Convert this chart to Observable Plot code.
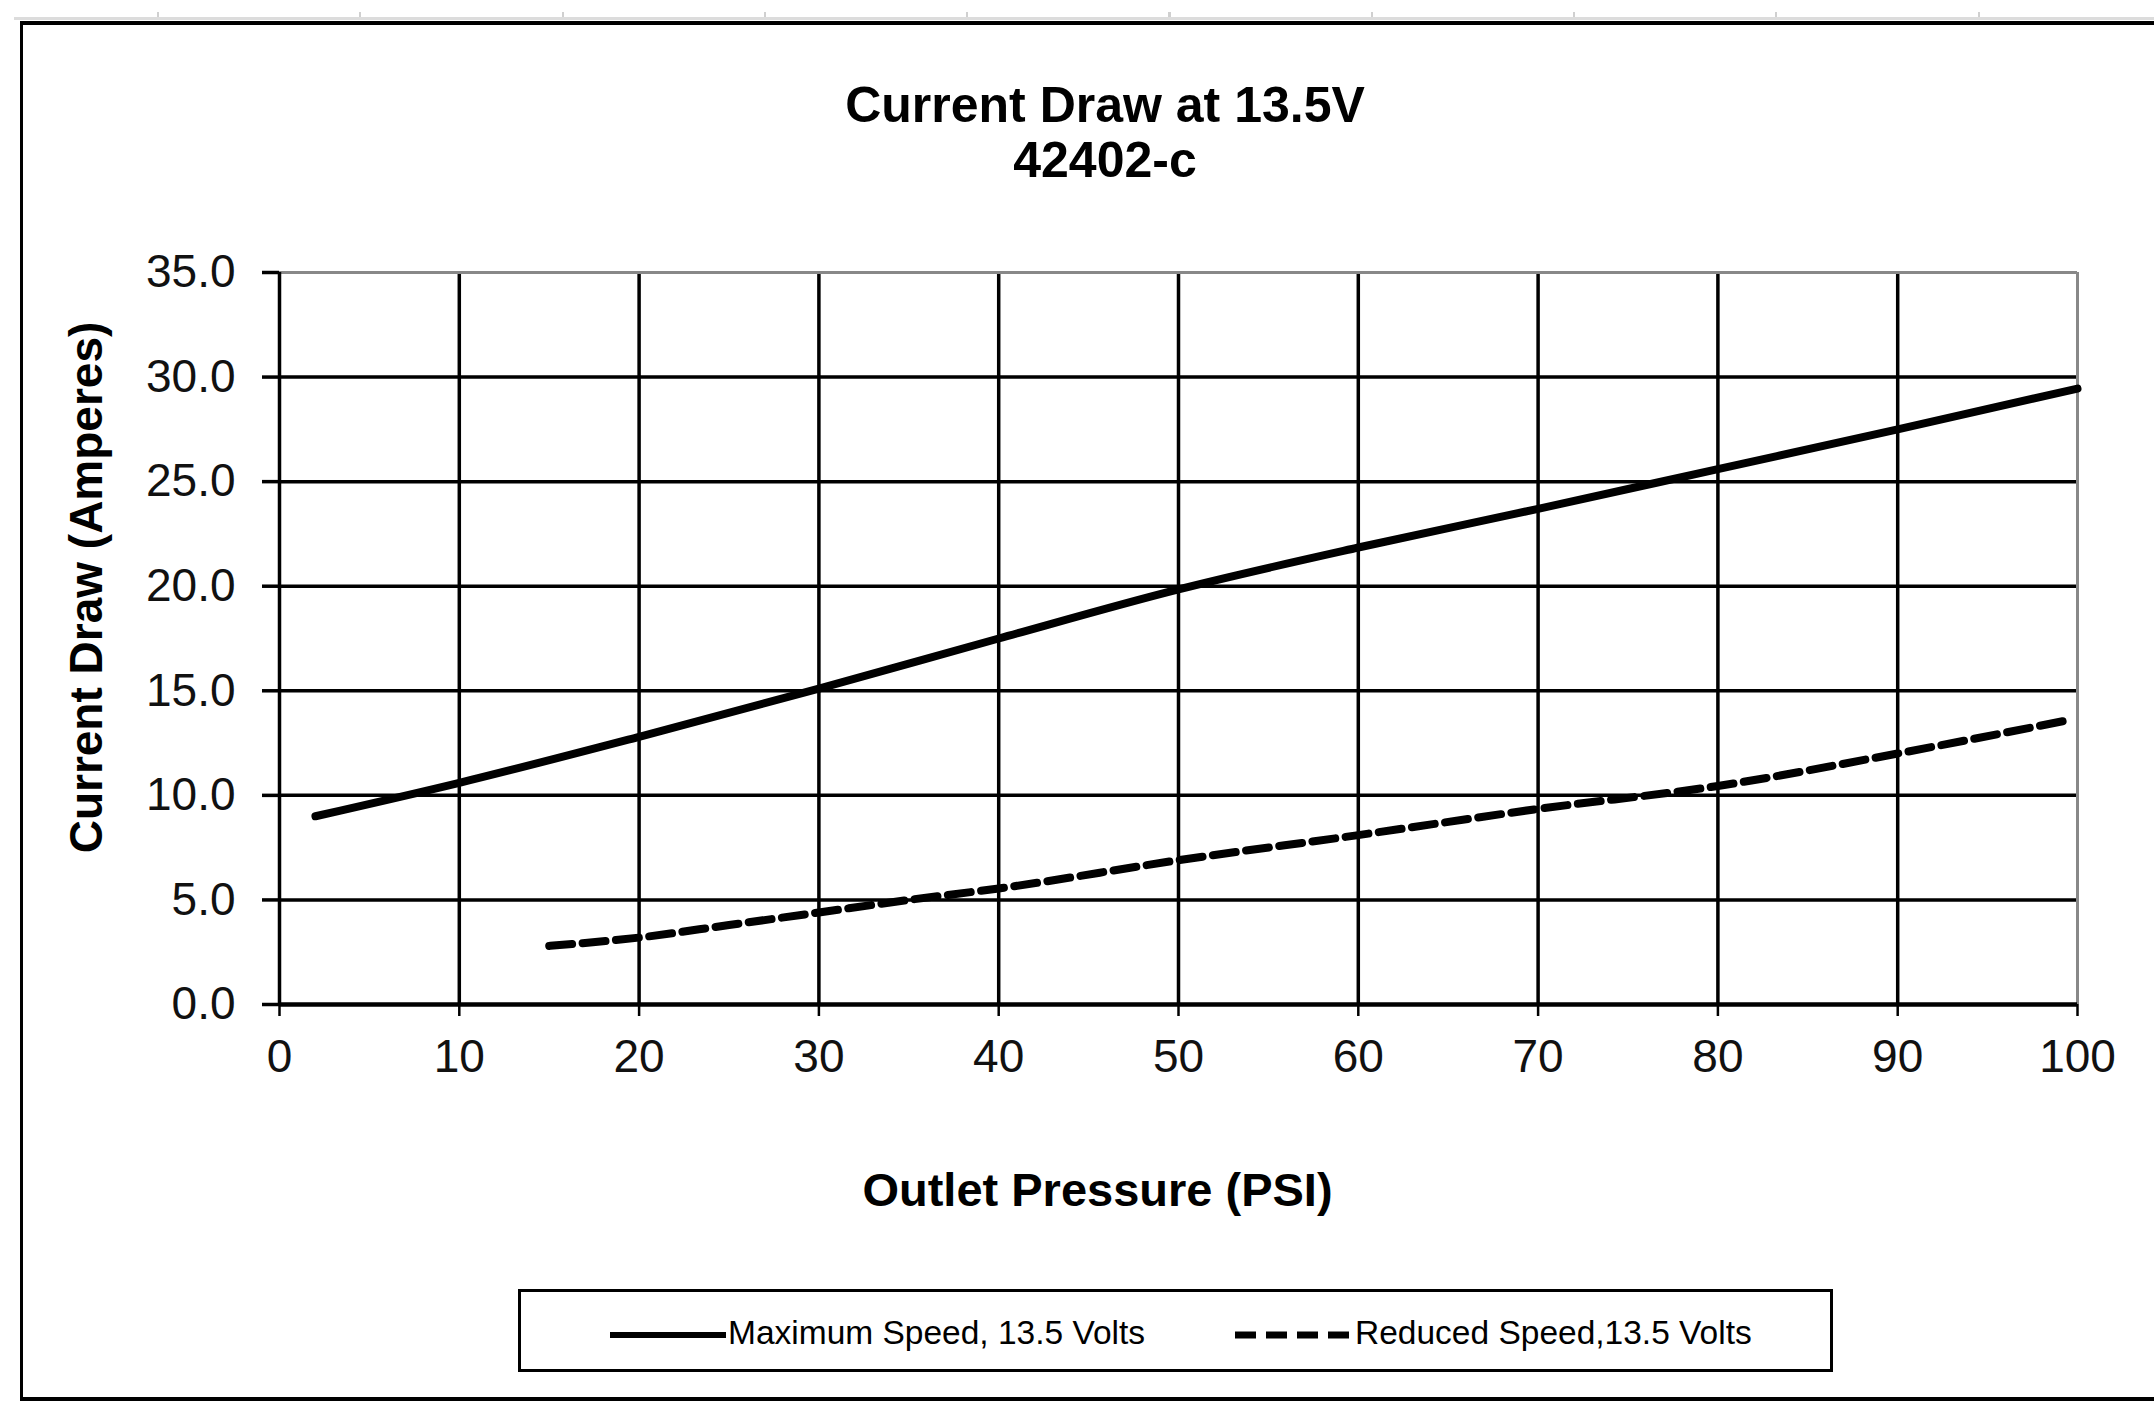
<!DOCTYPE html>
<html>
<head>
<meta charset="utf-8">
<script src="https://cdn.jsdelivr.net/npm/d3@7"></script>
<script src="https://cdn.jsdelivr.net/npm/@observablehq/plot@0.6"></script>
<style>
  html, body { margin: 0; padding: 0; background: #fff; }
  body { width: 2154px; height: 1404px; position: relative; overflow: hidden; font-family: "Liberation Sans", Arial, sans-serif; }
  #ruler { position: absolute; left: 14px; right: 0; top: 17px; height: 3px; background: #dcdcdc; }
  #rulerTicks { position: absolute; left: 157px; right: 0; top: 12px; height: 5px;
    background: repeating-linear-gradient(to right, #d0d0d0 0 2px, transparent 2px 202.3px); }
  #frame { position: absolute; left: 20px; top: 21px; width: 2300px; height: 1372px;
    border-left: 3px solid #000; border-top: 4px solid #000; border-bottom: 4px solid #000; }
  #title { position: absolute; left: 0; width: 2210px; top: 78px; text-align: center;
    font-weight: bold; font-size: 50px; line-height: 55px; color: #000; }
  #chart { position: absolute; left: 0; top: 200px; }
  #legend { position: absolute; left: 518px; top: 1289px; width: 1315px; height: 83px;
    box-sizing: border-box; border: 3px solid #000; background: #fff; }
  .sw { position: absolute; top: 30px; }
  .lt { position: absolute; top: 21px; font-size: 33.5px; line-height: 40px; color: #000; white-space: nowrap; }
</style>
</head>
<body>
<div id="ruler"></div>
<div id="rulerTicks"></div>
<div id="frame"></div>
<div id="title">Current Draw at 13.5V<br>42402-c</div>
<div id="chart"></div>
<div id="legend">
  <svg class="sw" style="left:86px" width="122" height="26"><line x1="3" y1="13" x2="119" y2="13" stroke="#000" stroke-width="6"/></svg>
  <span class="lt" style="left:207px">Maximum Speed, 13.5 Volts</span>
  <svg class="sw" style="left:711px" width="126" height="26"><line x1="3" y1="13" x2="123" y2="13" stroke="#000" stroke-width="7" stroke-dasharray="21,10"/></svg>
  <span class="lt" style="left:834px">Reduced Speed,13.5 Volts</span>
</div>
<script>
// ---- data ----
const maxPressure = [2, 10, 20, 30, 40, 50, 60, 70, 80, 90, 100];
const maxCurrent  = [9.0, 10.6, 12.8, 15.1, 17.5, 19.85, 21.85, 23.7, 25.6, 27.5, 29.45];
const redPressure = [15, 20, 25, 30, 35, 40, 50, 60, 70, 80, 90, 99.5];
const redCurrent  = [2.8, 3.2, 3.8, 4.4, 5.0, 5.55, 6.9, 8.1, 9.35, 10.45, 12.0, 13.6];
const xTicks = [0, 10, 20, 30, 40, 50, 60, 70, 80, 90, 100];
const yTicks = [0, 5, 10, 15, 20, 25, 30, 35];
const xLabel = "Outlet Pressure (PSI)";
const yLabel = "Current Draw (Amperes)";

const maxData = maxPressure.map((p, i) => ({p, a: maxCurrent[i]}));
const redData = redPressure.map((p, i) => ({p, a: redCurrent[i]}));

const chart = Plot.plot({
  width: 2154,
  height: 1050,
  marginLeft: 279,
  marginRight: 77,
  marginTop: 72,
  marginBottom: 246,
  style: { fontFamily: "'Liberation Sans', Arial, sans-serif", fontSize: "46px", color: "#111", background: "transparent", overflow: "visible" },
  x: { domain: [0, 100] },
  y: { domain: [0, 35] },
  marks: [
    Plot.ruleX(xTicks.slice(1, -1), { stroke: "#000", strokeWidth: 3.5 }),
    Plot.ruleY(yTicks.slice(1, -1), { stroke: "#000", strokeWidth: 3.5 }),
    Plot.ruleX([100], { stroke: "#888", strokeWidth: 3 }),
    Plot.ruleY([35], { stroke: "#888", strokeWidth: 3 }),
    Plot.axisX({ ticks: xTicks, tickSize: 12, tickPadding: 23, label: null, stroke: "#000", strokeWidth: 2.5, fontSize: 46 }),
    Plot.axisY({ ticks: yTicks, tickSize: 17, tickPadding: 27, label: null, tickFormat: d3.format(".1f"), stroke: "#000", strokeWidth: 3.5, fontSize: 46 }),
    Plot.ruleX([0], { stroke: "#000", strokeWidth: 3.5 }),
    Plot.ruleY([0], { stroke: "#000", strokeWidth: 4.5 }),
    Plot.line(maxData, { x: "p", y: "a", stroke: "#000", strokeWidth: 8, curve: "monotone-x" }),
    Plot.line(redData, { x: "p", y: "a", stroke: "#000", strokeWidth: 8, strokeDasharray: "23,10.5", curve: "monotone-x" }),
    Plot.text([xLabel], { text: d => d, frameAnchor: "bottom", lineAnchor: "middle", textAnchor: "middle", dx: -81, dy: 186, fontSize: 47, fontWeight: "bold", fill: "#000" }),
    Plot.text([yLabel], { text: d => d, frameAnchor: "left", rotate: -90, lineAnchor: "middle", textAnchor: "middle", dx: -192, dy: -51, fontSize: 46, fontWeight: "bold", fill: "#000" })
  ]
});
document.getElementById("chart").appendChild(chart);
</script>
</body>
</html>
